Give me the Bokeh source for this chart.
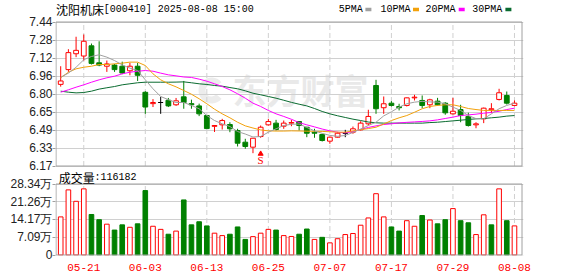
import numpy as np
from bokeh.plotting import figure
from bokeh.models import ColumnDataSource, Range1d, FixedTicker, Grid
from bokeh.embed import file_html
from bokeh.resources import INLINE
from bokeh.core.properties import value

# ---------------- data ----------------
dates = ["05-16", "05-19", "05-20", "05-21", "05-22", "05-23", "05-26", "05-27", "05-28", "05-29",
         "05-30", "06-03", "06-04", "06-05", "06-06", "06-09", "06-10", "06-11", "06-12", "06-13",
         "06-16", "06-17", "06-18", "06-19", "06-20", "06-23", "06-24", "06-25", "06-26", "06-27",
         "06-30", "07-01", "07-02", "07-03", "07-04", "07-07", "07-08", "07-09", "07-10", "07-11",
         "07-14", "07-15", "07-16", "07-17", "07-18", "07-21", "07-22", "07-23", "07-24", "07-25",
         "07-28", "07-29", "07-30", "07-31", "08-01", "08-04", "08-05", "08-06", "08-07", "08-08"]

opens = [6.89, 7.02, 7.16, 7.14, 7.23, 7.08, 7.05, 7.06, 7.05, 7.01,
         7.05, 6.82, 6.72, 6.73, 6.75, 6.71, 6.78, 6.72, 6.70, 6.615,
         6.52, 6.533, 6.536, 6.483, 6.38, 6.336, 6.43, 6.533, 6.548, 6.521,
         6.548, 6.562, 6.512, 6.468, 6.448, 6.389, 6.424, 6.459, 6.468, 6.489,
         6.542, 6.88, 6.684, 6.724, 6.695, 6.704, 6.771, 6.748, 6.71, 6.742,
         6.724, 6.63, 6.668, 6.607, 6.533, 6.586, 6.666, 6.757, 6.792, 6.704]
highs = [7.05, 7.20, 7.31, 7.33, 7.25, 7.27, 7.10, 7.07, 7.09, 7.08,
         7.08, 6.83, 6.76, 6.78, 6.77, 6.77, 6.92, 6.755, 6.72, 6.62,
         6.53, 6.586, 6.556, 6.498, 6.41, 6.415, 6.527, 6.586, 6.577, 6.571,
         6.577, 6.565, 6.515, 6.498, 6.454, 6.43, 6.471, 6.489, 6.518, 6.565,
         6.666, 6.93, 6.783, 6.742, 6.719, 6.775, 6.798, 6.792, 6.763, 6.771,
         6.733, 6.771, 6.71, 6.64, 6.556, 6.685, 6.724, 6.851, 6.827, 6.748]
lows = [6.87, 7.00, 7.13, 7.10, 7.065, 7.05, 7.00, 7.00, 6.98, 6.97,
        6.92, 6.63, 6.69, 6.63, 6.69, 6.70, 6.675, 6.675, 6.61, 6.50,
        6.47, 6.492, 6.468, 6.342, 6.322, 6.283, 6.419, 6.527, 6.483, 6.498,
        6.521, 6.483, 6.424, 6.419, 6.386, 6.366, 6.419, 6.424, 6.454, 6.483,
        6.527, 6.63, 6.63, 6.695, 6.66, 6.695, 6.748, 6.68, 6.68, 6.704,
        6.622, 6.624, 6.556, 6.518, 6.503, 6.548, 6.636, 6.748, 6.712, 6.697]
closes = [6.92, 7.17, 7.19, 7.27, 7.075, 7.06, 7.07, 7.02, 6.99, 7.05,
          6.97, 6.69, 6.73, 6.73, 6.70, 6.745, 6.73, 6.71, 6.63, 6.50,
          6.527, 6.571, 6.498, 6.371, 6.342, 6.415, 6.512, 6.562, 6.492, 6.548,
          6.553, 6.527, 6.459, 6.459, 6.395, 6.424, 6.459, 6.459, 6.498, 6.548,
          6.607, 6.675, 6.719, 6.704, 6.684, 6.771, 6.777, 6.704, 6.754, 6.71,
          6.639, 6.653, 6.615, 6.527, 6.542, 6.68, 6.675, 6.816, 6.724, 6.724]

ma5 = [6.953, 6.989, 7.041, 7.107, 7.136, 7.151, 7.130, 7.100, 7.062, 7.033,
       7.012, 6.930, 6.851, 6.783, 6.755, 6.730, 6.730, 6.704, 6.675, 6.615,
       6.571, 6.542, 6.518, 6.474, 6.452, 6.426, 6.430, 6.468, 6.498, 6.527,
       6.538, 6.540, 6.510, 6.480, 6.458, 6.440, 6.432, 6.439, 6.466, 6.496,
       6.527, 6.556, 6.612, 6.648, 6.689, 6.719, 6.733, 6.740, 6.735, 6.733,
       6.719, 6.689, 6.660, 6.615, 6.588, 6.586, 6.630, 6.675, 6.704, 6.724]
ma10 = [6.948, 6.997, 7.027, 7.041, 7.050, 7.065, 7.065, 7.071, 7.077, 7.086,
        7.086, 7.056, 6.983, 6.930, 6.895, 6.868, 6.836, 6.803, 6.763, 6.719,
        6.671, 6.630, 6.595, 6.556, 6.524, 6.505, 6.488, 6.480, 6.478, 6.478,
        6.480, 6.479, 6.477, 6.476, 6.475, 6.472, 6.468, 6.468, 6.480, 6.490,
        6.500, 6.512, 6.540, 6.571, 6.595, 6.615, 6.644, 6.675, 6.695, 6.704,
        6.710, 6.710, 6.695, 6.677, 6.668, 6.660, 6.660, 6.660, 6.660, 6.660]
ma20 = [6.821, 6.842, 6.865, 6.886, 6.909, 6.930, 6.948, 6.962, 6.983, 6.997,
        7.006, 7.012, 7.006, 6.989, 6.974, 6.965, 6.955, 6.951, 6.936, 6.918,
        6.895, 6.871, 6.842, 6.807, 6.768, 6.724, 6.695, 6.660, 6.630, 6.607,
        6.582, 6.553, 6.533, 6.515, 6.496, 6.480, 6.468, 6.462, 6.474, 6.492,
        6.510, 6.524, 6.536, 6.542, 6.550, 6.555, 6.559, 6.563, 6.568, 6.577,
        6.589, 6.601, 6.615, 6.621, 6.627, 6.636, 6.642, 6.653, 6.668, 6.680]
ma30 = [6.830, 6.821, 6.815, 6.818, 6.830, 6.848, 6.860, 6.871, 6.886, 6.895,
        6.904, 6.909, 6.909, 6.909, 6.909, 6.910, 6.912, 6.904, 6.895, 6.889,
        6.880, 6.874, 6.862, 6.851, 6.833, 6.812, 6.798, 6.783, 6.768, 6.750,
        6.731, 6.715, 6.700, 6.677, 6.651, 6.630, 6.613, 6.598, 6.583, 6.571,
        6.558, 6.551, 6.548, 6.548, 6.548, 6.548, 6.548, 6.548, 6.553, 6.556,
        6.562, 6.568, 6.574, 6.580, 6.586, 6.589, 6.595, 6.601, 6.610, 6.615]

# volume in 万
volume = [15.21, 25.99, 21.43, 26.40, 16.17, 14.10, 12.30, 9.95, 12.03, 11.06,
          12.44, 25.71, 11.47, 10.23, 8.29, 9.54, 21.98, 12.03, 13.27, 11.61,
          8.71, 7.74, 8.29, 11.20, 6.22, 7.33, 8.71, 10.23, 9.95, 7.74,
          7.40, 8.29, 10.37, 6.22, 7.05, 4.84, 6.50, 8.16, 8.57, 11.89,
          14.79, 24.47, 15.21, 11.20, 9.54, 13.69, 11.47, 15.76, 13.96, 12.44,
          14.10, 18.52, 13.69, 12.86, 8.16, 16.04, 12.03, 26.40, 13.69, 11.6182]
vol_up = [1, 1, 1, 1, 0, 0, 1, 0, 0, 1,
          0, 0, 1, 1, 0, 1, 0, 0, 0, 0,
          1, 1, 0, 0, 0, 1, 1, 1, 0, 1,
          1, 0, 0, 1, 0, 1, 1, 1, 1, 1,
          1, 1, 1, 0, 0, 1, 1, 0, 1, 0,
          0, 1, 0, 0, 1, 1, 0, 1, 0, 1]

price_tick_labels = ["6.17", "6.33", "6.49", "6.65", "6.80", "6.96", "7.12", "7.28", "7.44"]
vol_tick_labels = ["0", "7.09万", "14.17万", "21.26万", "28.34万"]
date_tick_idx = [3, 11, 19, 27, 35, 43, 51, 59]

title_name = "沈阳机床"
title_rest = "[000410] 2025-08-08 15:00"
vol_title = "成交量"
vol_last = ":116182"
ma_names = ["5PMA", "10PMA", "20PMA", "30PMA"]
watermark = "东方财富"
low_mark_idx = 26

# ---------------- layout / styling ----------------
RED = "#ff0000"
GREEN = "#008000"
MA_COLORS = ["#a0a0a0", "#f2a10b", "#ff00ff", "#0a6b30"]
FRAMEC = "#a0a0a0"
GRIDC = "#d0d0d0"
MONO = "Liberation Mono"
CJK = "Noto Sans CJK SC"

W, H = 574, 276
FL, FR, FB = 55, 523, 255          # frame left / right / bottom (px)
STEP = 7.691                        # px per trading day
X0 = 60.2                           # px of first candle
X_LO = (FL - X0) / STEP
X_HI = X_LO + (FR - FL) / STEP

P_LO, P_HI = 6.17, 7.44
PY_TOP, PY_BOT = 21.5, 165.5        # px of price panel
V_HI = 28.34
VY_TOP, VY_BOT = 183.5, 254.5       # px of volume panel
K1 = (PY_BOT - PY_TOP) / (P_HI - P_LO)
K2 = (VY_BOT - VY_TOP) / V_HI


def xd(px):
    return X_LO + (px - FL) / STEP


def yp(py):
    return P_HI - (py - PY_TOP) / K1


def yv(py):
    return V_HI - (py - VY_TOP) / K2


n = len(closes)
idx = list(range(n))
o = np.array(opens); c = np.array(closes); h = np.array(highs); l = np.array(lows)
top = np.maximum(o, c); bot = np.minimum(o, c)
cand_line = [RED if cc > oo else (GREEN if cc < oo else "#000000") for oo, cc in zip(opens, closes)]
cand_fill = ["#ffffff" if cc > oo else (GREEN if cc < oo else "#000000") for oo, cc in zip(opens, closes)]
src = ColumnDataSource(dict(x=idx, top=top, bot=bot, high=h, low=l, line=cand_line, fill=cand_fill))

p = figure(width=W, height=H, x_range=Range1d(X_LO, X_HI), y_range=Range1d(yp(FB), yp(0)),
           output_backend="svg", toolbar_location=None,
           min_border_left=FL, min_border_right=W - FR, min_border_top=0, min_border_bottom=H - FB)
p.extra_y_ranges = {"vol": Range1d(yv(FB), yv(0))}
p.outline_line_color = None
p.grid.visible = False
p.background_fill_color = "#ffffff"

# y axis: price ticks plus volume ticks (volume ticks placed via the volume scale's pixel rows)
price_ticks = [round(v, 6) for v in np.linspace(P_LO, P_HI, len(price_tick_labels))]
vol_vals = np.linspace(0, V_HI, len(vol_tick_labels))
vol_ticks_in_price = [round(yp(VY_TOP + (V_HI - v) * K2), 6) for v in vol_vals]
all_ticks = price_ticks + vol_ticks_in_price
overrides = {t: s for t, s in zip(price_ticks, price_tick_labels)}
overrides.update({t: s for t, s in zip(vol_ticks_in_price, vol_tick_labels)})

ya = p.yaxis[0]
ya.ticker = FixedTicker(ticks=all_ticks)
ya.major_label_overrides = overrides
ya.axis_line_color = None
ya.major_tick_line_color = FRAMEC
ya.major_tick_out = 3
ya.major_tick_in = 0
ya.minor_tick_line_color = None
ya.major_label_standoff = 0
ya.major_label_text_font = "Liberation Sans"
ya.major_label_text_font_size = "12px"
ya.major_label_text_color = "#222222"

xa = p.xaxis[0]
xa.ticker = FixedTicker(ticks=date_tick_idx)
xa.major_label_overrides = {i: dates[i] for i in date_tick_idx}
xa.axis_line_color = None
xa.major_tick_line_color = None
xa.minor_tick_line_color = None
xa.major_label_standoff = 2
xa.major_label_text_font = MONO
xa.major_label_text_font_size = "11px"
xa.major_label_text_color = RED

# horizontal grid
p.add_layout(Grid(dimension=1, ticker=FixedTicker(ticks=all_ticks), grid_line_color=GRIDC))

# vertical dashed grid, per panel
p.segment(x0=date_tick_idx, y0=[P_LO] * len(date_tick_idx), x1=date_tick_idx, y1=[P_HI] * len(date_tick_idx),
          line_color=GRIDC, line_dash="5 3", line_width=1)
p.segment(x0=date_tick_idx, y0=[0] * len(date_tick_idx), x1=date_tick_idx, y1=[V_HI] * len(date_tick_idx),
          line_color=GRIDC, line_dash="5 3", line_width=1, y_range_name="vol")

# watermark
p.annular_wedge(x=[xd(211)], y=[yp(90)], inner_radius=6, outer_radius=13, inner_radius_units="screen",
                outer_radius_units="screen", start_angle=0.7, end_angle=5.6, fill_color="#ececec",
                line_color=None, level="underlay")
p.text(x=[xd(232)], y=[yp(89)], text=[watermark], text_font=value(CJK), text_font_size="34px",
       text_font_style="bold", text_color="#e9e9e9", text_baseline="middle", level="underlay")

# candles
p.segment(x0="x", y0="top", x1="x", y1="high", color="line", source=src, line_width=1)
p.segment(x0="x", y0="bot", x1="x", y1="low", color="line", source=src, line_width=1)
p.vbar(x="x", top="top", bottom="bot", width=0.62, fill_color="fill", line_color="line",
       line_width=1, source=src)

for ma, col in zip([ma30, ma20, ma10, ma5], MA_COLORS[::-1]):
    p.line(idx, ma, line_color=col, line_width=1)

# low marker
p.scatter([low_mark_idx], [yp(153.3)], marker="triangle", size=5, fill_color=RED, line_color=RED)
p.text(x=[low_mark_idx], y=[yp(159.8)], text=["S"], text_font=value("Liberation Serif"),
       text_font_size="11px", text_color=RED, text_align="center", text_baseline="middle")

# volume bars
vsrc = ColumnDataSource(dict(x=idx, v=volume,
                             line=[RED if u else GREEN for u in vol_up],
                             fill=["#ffffff" if u else GREEN for u in vol_up]))
p.vbar(x="x", top="v", bottom=0, width=0.6, fill_color="fill", line_color="line", line_width=1,
       source=vsrc, y_range_name="vol")

# panel boxes
p.quad(left=[xd(55.5)], right=[xd(521.5)], bottom=[P_LO], top=[P_HI], fill_color=None,
       line_color=FRAMEC, line_width=1)
p.quad(left=[xd(55.5)], right=[xd(521.5)], bottom=[0], top=[V_HI], fill_color=None,
       line_color=FRAMEC, line_width=1, y_range_name="vol")

# title line
ty = yp(8.5)
p.text(x=[xd(55.5)], y=[ty], text=[title_name], text_font=value(CJK), text_font_size="12px",
       text_color="#000000", text_baseline="middle")
p.text(x=[xd(103.3)], y=[ty], text=[title_rest], text_font=value(MONO), text_font_size="10px",
       text_color="#000000", text_baseline="middle")
leg_text_px = [338.3, 380.0, 425.0, 471.7]
leg_sq_px = [367.9, 415.5, 461.2, 507.9]
p.text(x=[xd(v) for v in leg_text_px], y=[ty] * 4, text=ma_names, text_font=value(MONO),
       text_font_size="10px", text_color="#000000", text_baseline="middle")
p.rect(x=[xd(v) for v in leg_sq_px], y=[yp(9.0)] * 4, width=6, height=3.5, width_units="screen",
       height_units="screen", fill_color=MA_COLORS, line_color=None)

# volume caption
vy = yp(176.5)
p.text(x=[xd(58.3)], y=[vy], text=[vol_title], text_font=value(CJK), text_font_size="12px",
       text_color="#000000", text_baseline="middle")
p.text(x=[xd(94)], y=[vy], text=[vol_last], text_font=value(MONO), text_font_size="10px",
       text_color="#000000", text_baseline="middle")

open("out.html", "w").write(file_html(p, INLINE))
